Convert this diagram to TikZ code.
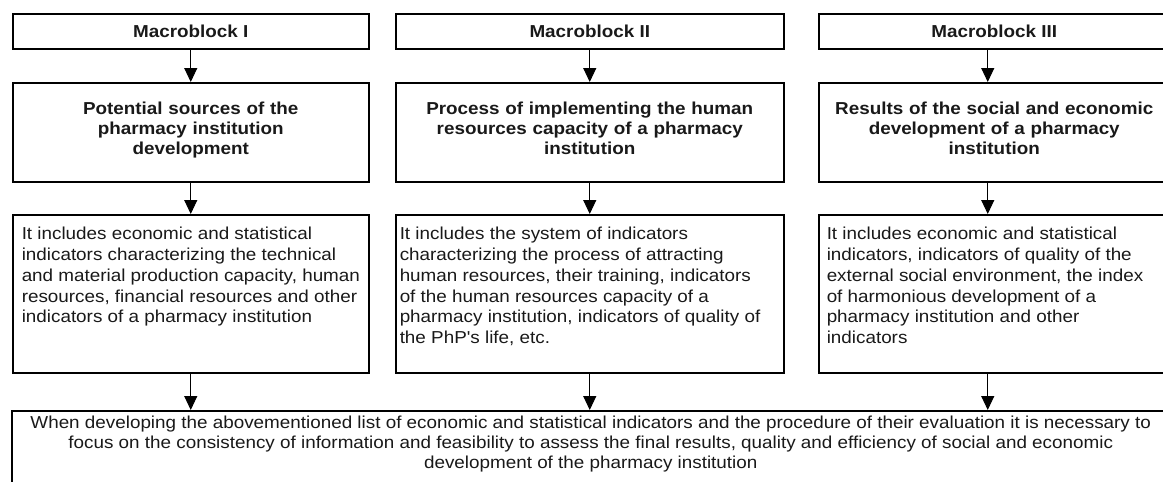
\documentclass[tikz,border=0pt]{standalone}
\usepackage{fontspec}
\setmainfont[FakeStretch=1.09]{Liberation Sans}
\newfontfamily\plainsans[FakeStretch=1.09]{Liberation Sans}
\usetikzlibrary{arrows.meta}
\newcommand\dettext[3]{\parbox[c][#1][t]{#2}{\leftskip=9pt\rightskip=0pt plus 1fil\parindent=0pt\rule{0pt}{25pt}#3}}
\begin{document}
\begin{tikzpicture}[x=1pt,y=-1pt,
  box/.style={draw, line width=1.5pt, anchor=north west, inner sep=0pt, text=black!90},
  hdr/.style={box, minimum height=35pt, align=center, font=\bfseries\fontsize{17.3}{20}\selectfont},
  ttl/.style={box, minimum height=99pt, align=center, font=\bfseries\fontsize{17.3}{20}\selectfont},
  det/.style={box, font=\fontsize{17.3}{20.8}\selectfont},
  arr/.style={line width=1pt, -{Triangle[width=13pt,length=14pt]}}]
\useasboundingbox (0,0) rectangle (1163,482);
\clip (0,0) rectangle (1163,482);
% headers
\node[hdr, minimum width=356pt] (H1) at (12,13) {\raisebox{-1.5pt}{Macroblock I}};
\node[hdr, minimum width=388pt] (H2) at (395,13) {\raisebox{-1.5pt}{Macroblock II}};
\node[hdr, minimum width=351pt] (H3) at (818,13) {\raisebox{-1.5pt}{Macroblock III}};
% titles
\node[ttl, minimum width=356pt, text width=340pt] (T1) at (12,82) {Potential sources of the\\ pharmacy institution\\ development\rule[-8pt]{0pt}{1pt}};
\node[ttl, minimum width=388pt, text width=380pt] (T2) at (395,82) {Process of implementing the human\\ resources capacity of a pharmacy\\ institution\rule[-8pt]{0pt}{1pt}};
\node[ttl, minimum width=351pt, text width=345pt] (T3) at (818,82) {Results of the social and economic\\ development of a pharmacy\\ institution\rule[-8pt]{0pt}{1pt}};
% details
\node[det] (D1) at (12,214) {\dettext{158pt}{356pt}{It includes economic and statistical\\ indicators characterizing the technical\\ and material production capacity, human\\ resources, financial resources and other\\ indicators of a pharmacy institution}};
\node[det] (D2) at (395,214) {\dettext{158pt}{388pt}{\hspace*{-5pt}It includes the system of indicators\\ \hspace*{-5pt}characterizing the process of attracting\\ \hspace*{-5pt}human resources, their training, indicators\\ \hspace*{-5pt}of the human resources capacity of a\\ \hspace*{-5pt}pharmacy institution, indicators of quality of\\ \hspace*{-5pt}the PhP{\plainsans '}s life, etc.}};
\node[det] (D3) at (818,214) {\dettext{158pt}{351pt}{\hspace*{-1pt}It includes economic and statistical\\ \hspace*{-1pt}indicators, indicators of quality of the\\ \hspace*{-1pt}external social environment, the index\\ \hspace*{-1pt}of harmonious development of a\\ \hspace*{-1pt}pharmacy institution and other\\ \hspace*{-1pt}indicators}};
% bottom
\node[box, font=\fontsize{17.3}{20}\selectfont] (B) at (11,410) {\parbox[c][100pt][t]{1158pt}{\centering\rule{0pt}{18pt}When developing the abovementioned list of economic and statistical indicators and the procedure of their evaluation it is necessary to\\ focus on the consistency of information and feasibility to assess the final results, quality and efficiency of social and economic\\ development of the pharmacy institution}};
% arrows
\draw[arr] (H1.south) -- (T1.north);
\draw[arr] (H2.south) -- (T2.north);
\draw[arr] ([xshift=-6.5pt]H3.south) -- ([xshift=-6.5pt]T3.north);
\draw[arr] (T1.south) -- (D1.north);
\draw[arr] (T2.south) -- (D2.north);
\draw[arr] ([xshift=-6.5pt]T3.south) -- ([xshift=-6.5pt]D3.north);
\draw[arr] (D1.south) -- (D1.south |- B.north);
\draw[arr] (D2.south) -- (D2.south |- B.north);
\draw[arr] ([xshift=-6.5pt]D3.south) -- ([xshift=-6.5pt]D3.south |- B.north);
\end{tikzpicture}
\end{document}
